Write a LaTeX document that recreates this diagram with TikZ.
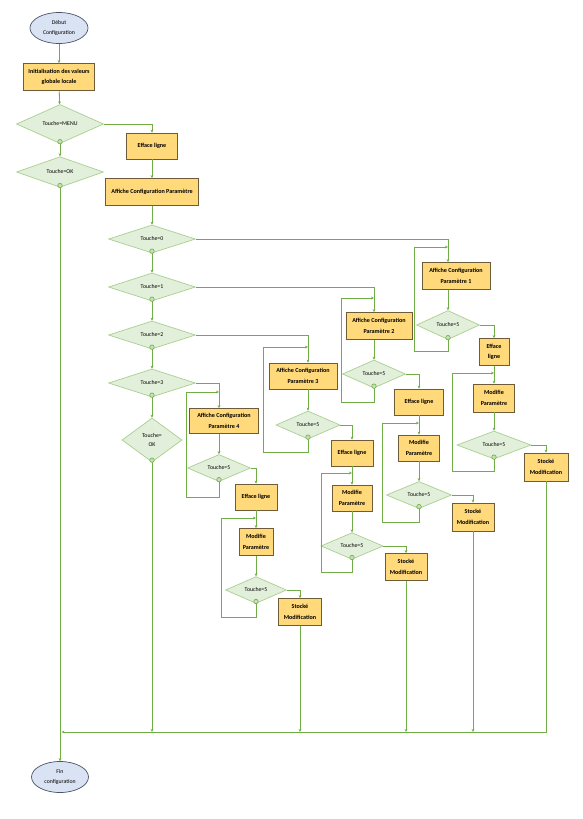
\documentclass[tikz,border=0pt]{standalone}
\usepackage{fontspec}
\setmainfont{Carlito}
\usetikzlibrary{shapes.geometric,arrows.meta}
\definecolor{ln}{HTML}{70AD47}
\definecolor{boxf}{HTML}{FFD97A}
\definecolor{boxd}{HTML}{6E5C38}
\definecolor{diaf}{HTML}{E2EFDA}
\definecolor{diad}{HTML}{A9D08E}
\definecolor{ellf}{HTML}{DAE3F3}
\definecolor{elld}{HTML}{4A5568}
\definecolor{dotf}{HTML}{C5E0B4}
\begin{document}
\begin{tikzpicture}[x=1pt,y=-1pt,
 every node/.style={inner sep=0pt},
 box/.style={draw=boxd, fill=boxf, line width=0.8pt, align=center, font=\fontsize{6.1}{10.5}\selectfont\bfseries},
 dia/.style={diamond, draw=diad, fill=diaf, line width=0.7pt, align=center, font=\fontsize{5.8}{8.5}\selectfont},
 ell/.style={ellipse, draw=elld, fill=ellf, line width=0.7pt, align=center, font=\fontsize{5.8}{10}\selectfont},
 arr/.style={draw=ln, line width=0.8pt, -{Stealth[length=3pt,width=2.8pt]}},
 lin/.style={draw=ln, line width=0.8pt},
 nodot/.style={circle, draw=ln, fill=dotf, line width=0.6pt, minimum size=4.5pt}
]
\fill[white] (0,0) rectangle (582,819);
\useasboundingbox (0,0) rectangle (582,819);

% column coordinates
\coordinate (c1) at (448,0);
\coordinate (c2) at (374,0);
\coordinate (c3) at (308,0);
\coordinate (c4) at (219,0);
\coordinate (bus) at (0,732);

% main column
\node[ell, minimum width=58pt, minimum height=31pt] (deb) at (59,28) {Début\\Configuration};
\node[box, minimum width=71pt, minimum height=27pt] (init) at (59,77) {Initialisation des valeurs\\globale locale};
\node[dia, minimum width=87pt, minimum height=27pt] (dmenu) at (60,124) {Touche=MENU};
\node[dia, minimum width=87pt, minimum height=27pt] (dok) at (60,172) {Touche=OK};
\node[box, minimum width=51pt, minimum height=26pt] (eff0) at (152,146) {Efface ligne};
\node[box, minimum width=93pt, minimum height=27pt] (aff0) at (152,192) {Affiche Configuration Paramètre};
\node[dia, minimum width=87pt, minimum height=28pt] (d0) at (152,239) {Touche=0};
\node[dia, minimum width=87pt, minimum height=28pt] (d1) at (152,287) {Touche=1};
\node[dia, minimum width=87pt, minimum height=28pt] (d2) at (152,335) {Touche=2};
\node[dia, minimum width=87pt, minimum height=28pt] (d3) at (152,383) {Touche=3};
\node[dia, minimum width=60pt, minimum height=44pt] (dok2) at (152,440) {Touche=\\OK};
\node[ell, minimum width=57pt, minimum height=31pt] (fin) at (60,777) {Fin\\configuration};

% parameter 1
\node[box, minimum width=68pt, minimum height=27pt] (aff1) at (456,276) {Affiche Configuration\\Paramètre 1};
\node[dia, minimum width=63pt, minimum height=29pt] (d1a) at (448,325) {Touche=5};
\node[box, minimum width=30pt, minimum height=27pt] (eff1) at (494,352) {Efface\\ligne};
\node[box, minimum width=41pt, minimum height=28pt] (mod1) at (494,398) {Modifie\\Paramètre};
\node[dia, minimum width=74pt, minimum height=28pt] (d1b) at (494,445) {Touche=5};
\node[box, minimum width=44pt, minimum height=28pt] (sto1) at (546,467) {Stocké\\Modification};

% parameter 2
\node[box, minimum width=66pt, minimum height=27pt] (aff2) at (379,326) {Affiche Configuration\\Paramètre 2};
\node[dia, minimum width=63pt, minimum height=28pt] (d2a) at (374,374) {Touche=5};
\node[box, minimum width=49pt, minimum height=26pt] (eff2) at (419,402) {Efface ligne};
\node[box, minimum width=41pt, minimum height=26pt] (mod2) at (419,448) {Modifie\\Paramètre};
\node[dia, minimum width=65pt, minimum height=27pt] (d2b) at (419,495) {Touche=5};
\node[box, minimum width=42pt, minimum height=28pt] (sto2) at (473,517) {Stocké\\Modification};

% parameter 3
\node[box, minimum width=68pt, minimum height=26pt] (aff3) at (303,376) {Affiche Configuration\\Paramètre 3};
\node[dia, minimum width=64pt, minimum height=28pt] (d3a) at (308,425) {Touche=5};
\node[box, minimum width=42pt, minimum height=26pt] (eff3) at (352,453) {Efface ligne};
\node[box, minimum width=40pt, minimum height=26pt] (mod3) at (352,498) {Modifie\\Paramètre};
\node[dia, minimum width=62pt, minimum height=26pt] (d3b) at (352,546) {Touche=5};
\node[box, minimum width=42pt, minimum height=27pt] (sto3) at (406,567) {Stocké\\Modification};

% parameter 4
\node[box, minimum width=69pt, minimum height=25pt] (aff4) at (224,421) {Affiche Configuration\\Paramètre 4};
\node[dia, minimum width=63pt, minimum height=27pt] (d4a) at (219,468) {Touche=5};
\node[box, minimum width=42pt, minimum height=26pt] (eff4) at (256,497) {Efface ligne};
\node[box, minimum width=34pt, minimum height=27pt] (mod4) at (256,542) {Modifie\\Paramètre};
\node[dia, minimum width=61pt, minimum height=26pt] (d4b) at (256,590) {Touche=5};
\node[box, minimum width=43pt, minimum height=27pt] (sto4) at (300,612) {Stocké\\Modification};

% loop join coordinates
\coordinate (j1a) at (448,247); \coordinate (k1a) at (414,351);
\coordinate (j1b) at (494,373); \coordinate (k1b) at (452,471);
\coordinate (j2a) at (374,298); \coordinate (k2a) at (341,402);
\coordinate (j2b) at (419,423); \coordinate (k2b) at (382,522);
\coordinate (j3a) at (308,347); \coordinate (k3a) at (263,452);
\coordinate (j3b) at (352,473); \coordinate (k3b) at (321,572);
\coordinate (j4a) at (219,392); \coordinate (k4a) at (186,497);
\coordinate (j4b) at (256,518); \coordinate (k4b) at (221,617);
\coordinate (end) at (61.5,732);

% main connectors
\draw[arr] (deb) -- (init);
\draw[arr] (init) -- (dmenu);
\draw[arr] (dmenu.south) -- (dok.north);
\draw[arr] (dmenu.east) -| (eff0.north);
\draw[arr] (eff0) -- (aff0);
\draw[arr] (aff0) -- (d0);
\draw[arr] (d0.south) -- (d1.north);
\draw[arr] (d1.south) -- (d2.north);
\draw[arr] (d2.south) -- (d3.north);
\draw[arr] (d3.south) -- (dok2.north);
\draw[arr] (dok.south) -- (fin.north);

% branches
\draw[arr] (d0.east) -| (c1 |- aff1.north);
\draw[arr] (d1.east) -| (c2 |- aff2.north);
\draw[arr] (d2.east) -| (c3 |- aff3.north);
\draw[arr] (d3.east) -| (c4 |- aff4.north);

% parameter 1 flow
\draw[arr] (c1 |- aff1.south) -- (d1a.north);
\draw[arr] (d1a.south) |- (k1a) |- (j1a);
\draw[arr] (d1a.east) -| (eff1.north);
\draw[arr] (eff1) -- (mod1);
\draw[arr] (mod1) -- (d1b);
\draw[arr] (d1b.south) |- (k1b) |- (j1b);
\draw[arr] (d1b.east) -| (sto1.north);

% parameter 2 flow
\draw[arr] (c2 |- aff2.south) -- (d2a.north);
\draw[arr] (d2a.south) |- (k2a) |- (j2a);
\draw[arr] (d2a.east) -| (eff2.north);
\draw[arr] (eff2) -- (mod2);
\draw[arr] (mod2) -- (d2b);
\draw[arr] (d2b.south) |- (k2b) |- (j2b);
\draw[arr] (d2b.east) -| (sto2.north);

% parameter 3 flow
\draw[arr] (c3 |- aff3.south) -- (d3a.north);
\draw[arr] (d3a.south) |- (k3a) |- (j3a);
\draw[arr] (d3a.east) -| (eff3.north);
\draw[arr] (eff3) -- (mod3);
\draw[arr] (mod3) -- (d3b);
\draw[arr] (d3b.south) |- (k3b) |- (j3b);
\draw[arr] (d3b.east) -| (sto3.north);

% parameter 4 flow
\draw[arr] (c4 |- aff4.south) -- (d4a.north);
\draw[arr] (d4a.south) |- (k4a) |- (j4a);
\draw[arr] (d4a.east) -| (eff4.north);
\draw[arr] (eff4) -- (mod4);
\draw[arr] (mod4) -- (d4b);
\draw[arr] (d4b.south) |- (k4b) |- (j4b);
\draw[arr] (d4b.east) -| (sto4.north);

% collector to end
\draw[arr] (sto1.south) |- (end);
\draw[arr] (sto2.south) -- (sto2.south |- bus);
\draw[arr] (sto3.south) -- (sto3.south |- bus);
\draw[arr] (sto4.south) -- (sto4.south |- bus);
\draw[arr] (dok2.south) -- (dok2.south |- bus);

% "no" markers
\foreach \d in {dmenu,dok,d0,d1,d2,d3,dok2,d1a,d1b,d2a,d2b,d3a,d3b,d4a,d4b}{
  \node[nodot] (m-\d) at ([yshift=2.2pt]\d.south) {};
}
\end{tikzpicture}
\end{document}
